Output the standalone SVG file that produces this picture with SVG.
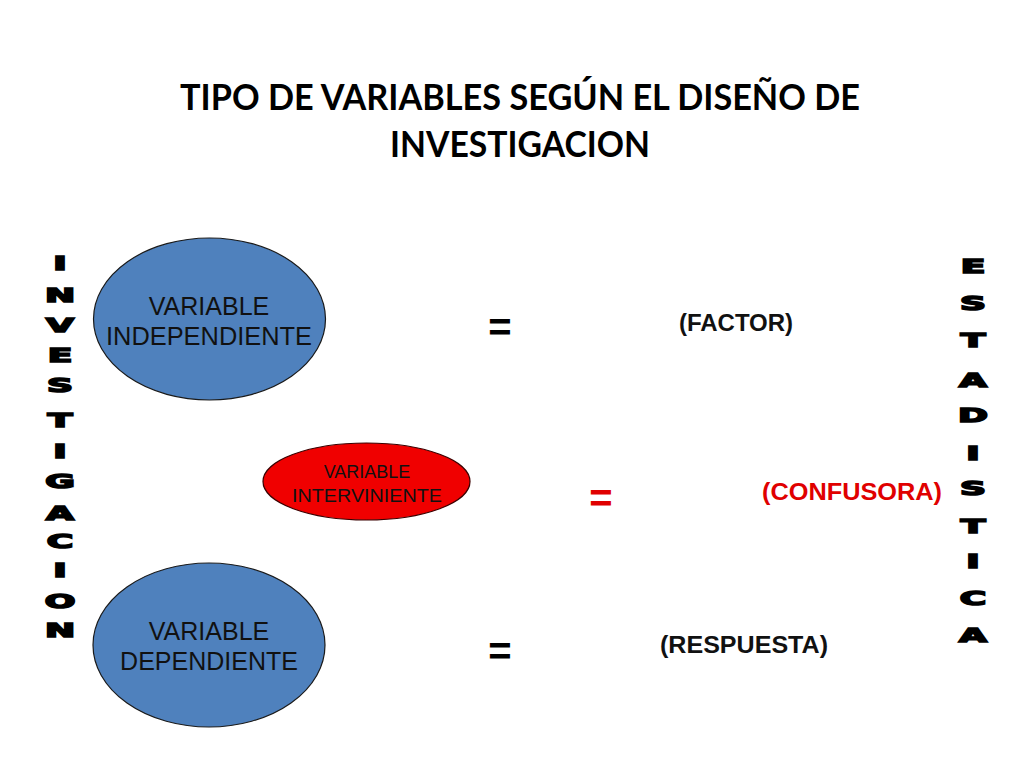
<svg xmlns="http://www.w3.org/2000/svg" width="1024" height="768" viewBox="0 0 1024 768">
<style>
.title{font-family:Lato,"Liberation Sans",sans-serif;font-weight:bold;font-size:36px;fill:#000;text-anchor:middle}
.lbl{font-family:"Liberation Sans",Arial,sans-serif;fill:#111;text-anchor:middle}
.eq{font-family:"Liberation Sans",Arial,sans-serif;font-weight:bold;font-size:40px;text-anchor:middle}
.res{font-family:"Liberation Sans",Arial,sans-serif;font-weight:bold;font-size:24px;text-anchor:middle}
.vert{font-family:"DejaVu Sans","Liberation Sans",sans-serif;font-weight:900;font-size:19px;text-anchor:middle;fill:#000;stroke:#000;stroke-width:1.6;stroke-linejoin:miter}
.blue{fill:#4F81BD;stroke:#1a1a1a;stroke-width:1.2}
.red{fill:#F00000;stroke:#3a0000;stroke-width:1.2}
</style>
<rect width="1024" height="768" fill="#fff"/>
<g id="title">
<text class="title" x="520" y="110" textLength="680" lengthAdjust="spacingAndGlyphs">TIPO DE VARIABLES SEGÚN EL DISEÑO DE</text>
<text class="title" x="520" y="157" textLength="260" lengthAdjust="spacingAndGlyphs">INVESTIGACION</text>
</g>
<g id="investigacion" transform="translate(60,0) scale(1.9,1)">
<text class="vert" x="0" y="270">I</text>
<text class="vert" x="0" y="302">N</text>
<text class="vert" x="0" y="332">V</text>
<text class="vert" x="0" y="362">E</text>
<text class="vert" x="0" y="392">S</text>
<text class="vert" x="0" y="427">T</text>
<text class="vert" x="0" y="458">I</text>
<text class="vert" x="0" y="488">G</text>
<text class="vert" x="0" y="520">A</text>
<text class="vert" x="0" y="548">C</text>
<text class="vert" x="0" y="577">I</text>
<text class="vert" x="0" y="608">O</text>
<text class="vert" x="0" y="637">N</text>
</g>
<g id="estadistica" transform="translate(973,0) scale(1.9,1)">
<text class="vert" x="0" y="273">E</text>
<text class="vert" x="0" y="310">S</text>
<text class="vert" x="0" y="347">T</text>
<text class="vert" x="0" y="387">A</text>
<text class="vert" x="0" y="422">D</text>
<text class="vert" x="0" y="460">I</text>
<text class="vert" x="0" y="495">S</text>
<text class="vert" x="0" y="533">T</text>
<text class="vert" x="0" y="568">I</text>
<text class="vert" x="0" y="605">C</text>
<text class="vert" x="0" y="642">A</text>
</g>
<g id="var-independiente">
<ellipse class="blue" cx="209.5" cy="319" rx="116" ry="81"/>
<text class="lbl" x="209" y="315" font-size="25">VARIABLE</text>
<text class="lbl" x="209" y="345" font-size="25" textLength="206" lengthAdjust="spacingAndGlyphs">INDEPENDIENTE</text>
</g>
<g id="var-interviniente">
<ellipse class="red" cx="366.5" cy="481.5" rx="103.5" ry="38.5"/>
<text class="lbl" x="367" y="478" font-size="18">VARIABLE</text>
<text class="lbl" x="367" y="502" font-size="18" textLength="150" lengthAdjust="spacingAndGlyphs">INTERVINIENTE</text>
</g>
<g id="var-dependiente">
<ellipse class="blue" cx="209" cy="645" rx="116" ry="82"/>
<text class="lbl" x="209" y="640" font-size="25">VARIABLE</text>
<text class="lbl" x="209" y="670" font-size="25">DEPENDIENTE</text>
</g>
<g id="connectors">
<text class="eq" x="500" y="341" fill="#000">=</text>
<text class="eq" x="601" y="512" fill="#E00000">=</text>
<text class="eq" x="500" y="665" fill="#000">=</text>
</g>
<g id="factor"><text class="res" x="736" y="331" fill="#111">(FACTOR)</text></g>
<g id="confusora"><text class="res" x="852" y="500" fill="#E00000" textLength="180" lengthAdjust="spacingAndGlyphs">(CONFUSORA)</text></g>
<g id="respuesta"><text class="res" x="744" y="653" fill="#111" textLength="168" lengthAdjust="spacingAndGlyphs">(RESPUESTA)</text></g>
</svg>
